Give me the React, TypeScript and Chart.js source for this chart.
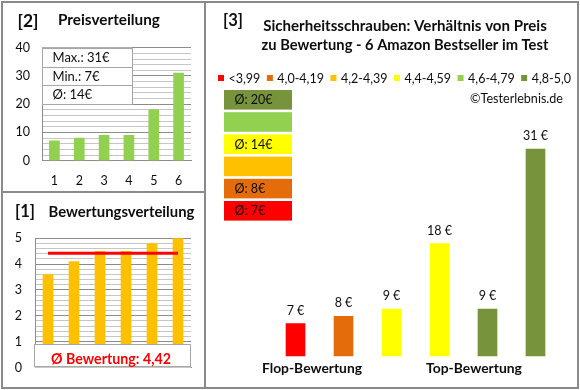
import React, { useEffect, useRef } from 'react';
import { Chart, registerables } from 'chart.js';

Chart.register(...registerables);

// ---------- data ----------
// products ordered by rating (worst -> best)
const productLabels = ['1', '2', '3', '4', '5', '6'];
const prices = [7, 8, 9, 18, 9, 31];
const ratings = [3.6, 4.1, 4.5, 4.5, 4.8, 5.0];
const priceTicks = [0, 10, 20, 30, 40];
const ratingTicks = [0, 1, 2, 3, 4, 5];
const classLabels = ['<3,99', '4,0-4,19', '4,2-4,39', '4,4-4,59', '4,6-4,79', '4,8-5,0'];
const classLowerBounds = [0, 4.0, 4.2, 4.4, 4.6, 4.8];
const classColors = ['#FF0000', '#E46C0A', '#FFC000', '#FFFF00', '#92D050', '#77933C'];
const mainTitle = ['Sicherheitsschrauben: Verhältnis von Preis', 'zu Bewertung - 6 Amazon Bestseller im Test'];
const groupLabels = ['Flop-Bewertung', 'Top-Bewertung'];
const copyright = '©Testerlebnis.de';

// price distribution panel shows the prices sorted ascending
const sortedPrices = [...prices].sort((a, b) => a - b);

// ---------- style ----------
const FONT = 'Lato, "Liberation Sans", sans-serif';
const TEXT = '#0d0d0d';
const MAJOR = '#8c8c8c';
const MINOR = '#c6c6c6';
const AXIS = '#8c8c8c';
const BORDER = '#8a8a8a';

const classOf = (r: number) => {
  let idx = 0;
  classLowerBounds.forEach((b, i) => { if (r >= b - 1e-9) idx = i; });
  return idx;
};

function fitFont(ctx: CanvasRenderingContext2D, text: string, weight: string, width: number) {
  ctx.font = `${weight} 100px ${FONT}`;
  const w = ctx.measureText(text).width;
  const size = (100 * width) / w;
  ctx.font = `${weight} ${size}px ${FONT}`;
  return size;
}

const isTick = (arr: number[], v: number) => arr.some((t) => Math.abs(t - v) < 1e-6);

const pricePanelPlugin = {
  id: 'pricePanel',
  afterDatasetsDraw(chart: any) {
    const ctx: CanvasRenderingContext2D = chart.ctx;
    const area = chart.chartArea;
    ctx.save();
    ctx.fillStyle = TEXT;
    ctx.textBaseline = 'middle';
    ctx.textAlign = 'left';
    fitFont(ctx, '[2]', 'bold', 21);
    ctx.fillText('[2]', 17.5, 21);
    fitFont(ctx, 'Preisverteilung', 'bold', 102);
    ctx.fillText('Preisverteilung', 58, 20.5);

    // info box
    const max = Math.max(...sortedPrices);
    const min = Math.min(...sortedPrices);
    const avg = Math.round(sortedPrices.reduce((a, b) => a + b, 0) / sortedPrices.length);
    const rows = [`Max.: ${max}€`, `Min.: ${min}€`, `Ø: ${avg}€`];
    const x0 = area.left, x1 = 132, y0 = area.top;
    const rowH = [19, 18.3, 19];
    let y = y0;
    ctx.fillStyle = '#ffffff';
    ctx.fillRect(x0, y0, x1 - x0, rowH[0] + rowH[1] + rowH[2]);
    ctx.strokeStyle = '#a6a6a6';
    ctx.lineWidth = 1;
    ctx.font = `13px ${FONT}`;
    rows.forEach((t, i) => {
      ctx.strokeRect(x0 + 0.5, Math.round(y) + 0.5, x1 - x0, Math.round(rowH[i]));
      ctx.fillStyle = TEXT;
      ctx.fillText(t, 52.5, y + rowH[i] / 2 + 0.5);
      y += rowH[i];
    });
    ctx.restore();
  },
};

const ratingPanelPlugin = {
  id: 'ratingPanel',
  afterDatasetsDraw(chart: any) {
    const ctx: CanvasRenderingContext2D = chart.ctx;
    const area = chart.chartArea;
    ctx.save();
    ctx.fillStyle = TEXT;
    ctx.textBaseline = 'middle';
    ctx.textAlign = 'left';
    fitFont(ctx, '[1]', 'bold', 20);
    ctx.fillText('[1]', 15, 19.5);
    fitFont(ctx, 'Bewertungsverteilung', 'bold', 146);
    ctx.fillText('Bewertungsverteilung', 48.5, 20);

    // average box (sits on the x axis)
    const avg = ratings.reduce((a, b) => a + b, 0) / ratings.length;
    const bx0 = area.left - 1, bx1 = area.right, by0 = 152.3, by1 = area.bottom;
    ctx.fillStyle = '#ffffff';
    ctx.fillRect(bx0, by0, bx1 - bx0, by1 - by0);
    ctx.strokeStyle = '#a6a6a6';
    ctx.lineWidth = 1;
    ctx.strokeRect(bx0 + 0.5, Math.round(by0) + 0.5, bx1 - bx0 - 1, Math.round(by1 - by0) - 1);
    const txt = `Ø Bewertung: ${avg.toFixed(2).replace('.', ',')}`;
    ctx.fillStyle = '#FF0000';
    ctx.textAlign = 'center';
    fitFont(ctx, txt, 'bold', 120);
    ctx.fillText(txt, 111, 167.3);
    ctx.restore();
  },
};

const mainPanelPlugin = {
  id: 'mainPanel',
  afterDatasetsDraw(chart: any) {
    const ctx: CanvasRenderingContext2D = chart.ctx;
    const area = chart.chartArea;
    const meta = chart.getDatasetMeta(0);
    ctx.save();
    ctx.textBaseline = 'middle';
    ctx.fillStyle = TEXT;

    // value labels
    ctx.textAlign = 'center';
    ctx.font = `12.5px ${FONT}`;
    meta.data.forEach((bar: any, i: number) => {
      ctx.fillText(`${prices[i]} €`, bar.x, bar.y - 13);
    });

    // panel number + title
    ctx.textAlign = 'left';
    fitFont(ctx, '[3]', 'bold', 20);
    ctx.fillText('[3]', 18, 21);
    ctx.textAlign = 'center';
    fitFont(ctx, mainTitle[0], 'bold', 284);
    ctx.fillText(mainTitle[0], 200, 26);
    fitFont(ctx, mainTitle[1], 'bold', 287);
    ctx.fillText(mainTitle[1], 200, 45.5);

    // legend row
    ctx.font = `12.5px ${FONT}`;
    const sq = 6, gapIn = 4.5, gapOut = 6.5;
    const widths = classLabels.map((l) => ctx.measureText(l).width);
    const total = widths.reduce((a, w) => a + sq + gapIn + w, 0) + gapOut * (classLabels.length - 1);
    let lx = 189.5 - total / 2;
    ctx.textAlign = 'left';
    classLabels.forEach((l, i) => {
      ctx.fillStyle = classColors[i];
      ctx.fillRect(lx, 78 - sq / 2, sq, sq);
      ctx.fillStyle = TEXT;
      ctx.fillText(l, lx + sq + gapIn, 78.5);
      lx += sq + gapIn + widths[i] + gapOut;
    });

    // copyright
    ctx.textAlign = 'right';
    fitFont(ctx, copyright, 'normal', 93);
    ctx.fillText(copyright, 358, 99);

    // class average boxes (top = best class)
    ctx.textAlign = 'left';
    ctx.font = `12.5px ${FONT}`;
    for (let k = 0; k < classColors.length; k++) {
      const ci = classColors.length - 1 - k;
      const top = 90 + 22.2 * k;
      ctx.fillStyle = classColors[ci];
      ctx.fillRect(19, top, 68, 19.6);
      const vals = prices.filter((_, i) => classOf(ratings[i]) === ci);
      if (vals.length) {
        const a = Math.round(vals.reduce((s, v) => s + v, 0) / vals.length);
        ctx.fillStyle = TEXT;
        ctx.fillText(`Ø: ${a}€`, 29.5, top + 10.3);
      }
    }

    // group labels
    ctx.fillStyle = TEXT;
    ctx.textAlign = 'center';
    fitFont(ctx, groupLabels[0], 'bold', 100);
    ctx.fillText(groupLabels[0], area.left + 40.5, 369);
    fitFont(ctx, groupLabels[1], 'bold', 96);
    ctx.fillText(groupLabels[1], area.left + 202.5, 369);
    ctx.restore();
  },
};

export default function App() {
  const priceRef = useRef<HTMLCanvasElement>(null);
  const ratingRef = useRef<HTMLCanvasElement>(null);
  const mainRef = useRef<HTMLCanvasElement>(null);

  useEffect(() => {
    const tickFont = { family: FONT, size: 12.5 };

    const priceChart = new Chart(priceRef.current as HTMLCanvasElement, {
      type: 'bar',
      data: {
        labels: productLabels,
        datasets: [{ data: sortedPrices, backgroundColor: '#92D050', barThickness: 10 }],
      },
      options: {
        animation: false,
        responsive: false,
        layout: { padding: { top: 47.7, right: 14, left: 0, bottom: 0 } },
        plugins: { legend: { display: false }, tooltip: { enabled: false } },
        scales: {
          x: {
            grid: { display: false, drawTicks: false },
            border: { display: true, color: AXIS },
            ticks: { color: TEXT, font: tickFont, padding: 13 },
            afterFit: (s: any) => { s.height = 31.3; },
          },
          y: {
            min: 0,
            max: 40,
            afterFit: (s: any) => { s.width = 42; },
            ticks: {
              stepSize: 2,
              autoSkip: false,
              padding: 12,
              color: TEXT,
              font: tickFont,
              callback: (v: any) => (isTick(priceTicks, Number(v)) ? String(v) : ''),
            },
            grid: {
              drawTicks: false,
              color: (c: any) => (c.tick && isTick(priceTicks, c.tick.value) ? MAJOR : MINOR),
            },
            border: { display: true, color: AXIS },
          },
        },
      } as any,
      plugins: [pricePanelPlugin],
    });

    const avgRating = ratings.reduce((a, b) => a + b, 0) / ratings.length;
    const ratingChart = new Chart(ratingRef.current as HTMLCanvasElement, {
      type: 'bar',
      data: {
        labels: productLabels,
        datasets: [
          {
            type: 'line',
            data: ratings.map(() => avgRating),
            borderColor: '#FF0000',
            borderWidth: 3,
            pointRadius: 0,
            order: 0,
          } as any,
          { type: 'bar', data: ratings, backgroundColor: '#FFC000', barThickness: 10, order: 1 } as any,
        ],
      },
      options: {
        animation: false,
        responsive: false,
        layout: { padding: { top: 46.3, right: 14, left: 0, bottom: 0 } },
        plugins: { legend: { display: false }, tooltip: { enabled: false } },
        scales: {
          x: {
            grid: { display: false, drawTicks: false },
            border: { display: true, color: AXIS },
            ticks: { display: false },
            afterFit: (s: any) => { s.height = 14.7; },
          },
          y: {
            min: 0,
            max: 5,
            afterFit: (s: any) => { s.width = 35; },
            ticks: {
              stepSize: 0.2,
              autoSkip: false,
              padding: 13,
              color: TEXT,
              font: tickFont,
              callback: (v: any) => (isTick(ratingTicks, Number(v)) ? String(Math.round(Number(v))) : ''),
            },
            grid: {
              drawTicks: false,
              color: (c: any) => (c.tick && isTick(ratingTicks, c.tick.value) ? MAJOR : MINOR),
            },
            border: { display: true, color: AXIS },
          },
        },
      } as any,
      plugins: [ratingPanelPlugin],
    });

    const mainChart = new Chart(mainRef.current as HTMLCanvasElement, {
      type: 'bar',
      data: {
        labels: productLabels,
        datasets: [
          {
            data: prices,
            backgroundColor: ratings.map((r) => classColors[classOf(r)]),
            barThickness: 19,
          },
        ],
      },
      options: {
        animation: false,
        responsive: false,
        layout: { padding: { top: 112.7, right: 18.5, left: 66.5, bottom: 31.7 } },
        plugins: { legend: { display: false }, tooltip: { enabled: false } },
        scales: {
          x: { display: false },
          y: { display: false, min: 2.5, max: 36 },
        },
      } as any,
      plugins: [mainPanelPlugin],
    });

    return () => {
      priceChart.destroy();
      ratingChart.destroy();
      mainChart.destroy();
    };
  }, []);

  const line = (s: React.CSSProperties) => (
    <div style={{ position: 'absolute', background: BORDER, ...s }} />
  );

  return (
    <div style={{ position: 'fixed', left: 0, top: 0, width: 580, height: 390, background: '#ffffff', overflow: 'hidden' }}>
      <canvas ref={priceRef} width={205} height={192} style={{ position: 'absolute', left: 0, top: 0 }} />
      <canvas ref={ratingRef} width={205} height={196} style={{ position: 'absolute', left: 0, top: 192 }} />
      <canvas ref={mainRef} width={373} height={388} style={{ position: 'absolute', left: 205, top: 0 }} />
      <div
        style={{
          position: 'absolute',
          left: 1,
          top: 1,
          width: 578,
          height: 388,
          boxSizing: 'border-box',
          border: `2px solid ${BORDER}`,
        }}
      />
      {line({ left: 204, top: 1, width: 2, height: 388 })}
      {line({ left: 1, top: 191, width: 204, height: 2 })}
    </div>
  );
}
